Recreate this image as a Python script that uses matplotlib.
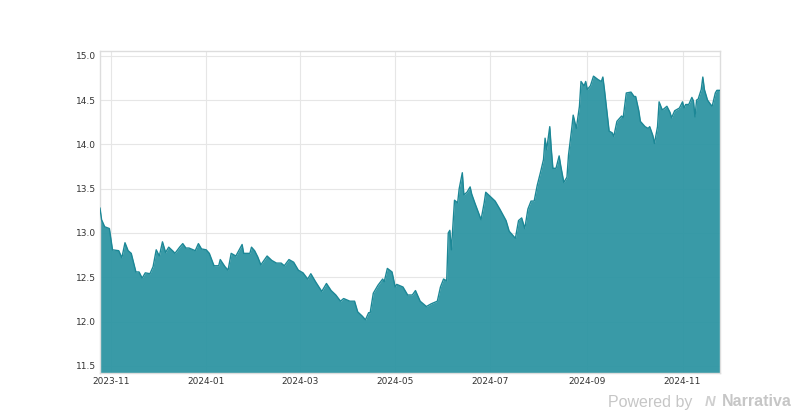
import matplotlib
matplotlib.use("Agg")
import matplotlib.pyplot as plt
import matplotlib.dates as mdates
import pandas as pd

# price series
dates = [
    "2023-10-25", "2023-10-26", "2023-10-28", "2023-10-31", "2023-11-02", "2023-11-06",
    "2023-11-08", "2023-11-10", "2023-11-12", "2023-11-14", "2023-11-17", "2023-11-19",
    "2023-11-21", "2023-11-23", "2023-11-26", "2023-11-28", "2023-11-30", "2023-12-02",
    "2023-12-04", "2023-12-06", "2023-12-08", "2023-12-11", "2023-12-12", "2023-12-15",
    "2023-12-17", "2023-12-19", "2023-12-21", "2023-12-25", "2023-12-27", "2023-12-29",
    "2024-01-01", "2024-01-03", "2024-01-06", "2024-01-09", "2024-01-10", "2024-01-13",
    "2024-01-15", "2024-01-17", "2024-01-20", "2024-01-24", "2024-01-25", "2024-01-29",
    "2024-01-30", "2024-02-01", "2024-02-03", "2024-02-05", "2024-02-09", "2024-02-12",
    "2024-02-15", "2024-02-18", "2024-02-20", "2024-02-23", "2024-02-26", "2024-02-29",
    "2024-03-03", "2024-03-06", "2024-03-08", "2024-03-11", "2024-03-15", "2024-03-18",
    "2024-03-21", "2024-03-24", "2024-03-27", "2024-03-29", "2024-04-02", "2024-04-05",
    "2024-04-07", "2024-04-10", "2024-04-12", "2024-04-14", "2024-04-15", "2024-04-17",
    "2024-04-20", "2024-04-23", "2024-04-24", "2024-04-26", "2024-04-29", "2024-05-01",
    "2024-05-02", "2024-05-06", "2024-05-09", "2024-05-12", "2024-05-14", "2024-05-17",
    "2024-05-21", "2024-05-24", "2024-05-28", "2024-05-30", "2024-06-01", "2024-06-03",
    "2024-06-04", "2024-06-05", "2024-06-06", "2024-06-08", "2024-06-10", "2024-06-11",
    "2024-06-13", "2024-06-14", "2024-06-16", "2024-06-18", "2024-06-19", "2024-06-21",
    "2024-06-24", "2024-06-25", "2024-06-27", "2024-06-28", "2024-07-01", "2024-07-04",
    "2024-07-07", "2024-07-11", "2024-07-13", "2024-07-15", "2024-07-17", "2024-07-19",
    "2024-07-21", "2024-07-23", "2024-07-25", "2024-07-27", "2024-07-29", "2024-07-31",
    "2024-08-02", "2024-08-04", "2024-08-05", "2024-08-06", "2024-08-08", "2024-08-09",
    "2024-08-10", "2024-08-12", "2024-08-14", "2024-08-15", "2024-08-17", "2024-08-19",
    "2024-08-20", "2024-08-22", "2024-08-23", "2024-08-25", "2024-08-27", "2024-08-28",
    "2024-08-30", "2024-08-31", "2024-09-01", "2024-09-03", "2024-09-05", "2024-09-08",
    "2024-09-10", "2024-09-11", "2024-09-12", "2024-09-14", "2024-09-15", "2024-09-17",
    "2024-09-18", "2024-09-20", "2024-09-23", "2024-09-24", "2024-09-26", "2024-09-29",
    "2024-10-01", "2024-10-02", "2024-10-04", "2024-10-05", "2024-10-08", "2024-10-10",
    "2024-10-11", "2024-10-13", "2024-10-14", "2024-10-16", "2024-10-17", "2024-10-19",
    "2024-10-20", "2024-10-22", "2024-10-24", "2024-10-25", "2024-10-27", "2024-10-29",
    "2024-10-30", "2024-11-01", "2024-11-02", "2024-11-03", "2024-11-05", "2024-11-07",
    "2024-11-08", "2024-11-09", "2024-11-10", "2024-11-11", "2024-11-13", "2024-11-14",
    "2024-11-15", "2024-11-17", "2024-11-19", "2024-11-20", "2024-11-22", "2024-11-23",
    "2024-11-24", "2024-11-25",
]
prices = [
    13.28, 13.15, 13.07, 13.05, 12.81, 12.80,
    12.72, 12.89, 12.80, 12.77, 12.56, 12.56,
    12.49, 12.55, 12.54, 12.62, 12.81, 12.74,
    12.90, 12.78, 12.84, 12.79, 12.77, 12.84,
    12.88, 12.83, 12.83, 12.80, 12.88, 12.82,
    12.81, 12.77, 12.63, 12.63, 12.70, 12.62,
    12.58, 12.77, 12.74, 12.87, 12.77, 12.77,
    12.84, 12.80, 12.73, 12.64, 12.74, 12.69,
    12.66, 12.66, 12.63, 12.70, 12.67, 12.58,
    12.55, 12.48, 12.54, 12.45, 12.34, 12.43,
    12.35, 12.30, 12.23, 12.26, 12.23, 12.23,
    12.11, 12.06, 12.02, 12.10, 12.10, 12.32,
    12.41, 12.48, 12.45, 12.60, 12.56, 12.39,
    12.42, 12.39, 12.30, 12.30, 12.35, 12.23,
    12.17, 12.20, 12.23, 12.39, 12.48, 12.46,
    13.00, 13.03, 12.81, 13.37, 13.34, 13.50,
    13.68, 13.43, 13.46, 13.52, 13.44, 13.34,
    13.20, 13.15, 13.34, 13.46, 13.41, 13.36,
    13.27, 13.14, 13.02, 12.98, 12.94, 13.14,
    13.17, 13.05, 13.27, 13.36, 13.36, 13.54,
    13.68, 13.83, 14.07, 13.94, 14.20, 13.94,
    13.73, 13.73, 13.87, 13.76, 13.57, 13.63,
    13.88, 14.17, 14.33, 14.18, 14.43, 14.71,
    14.66, 14.71, 14.62, 14.66, 14.77, 14.73,
    14.71, 14.76, 14.62, 14.31, 14.15, 14.13,
    14.09, 14.26, 14.32, 14.30, 14.58, 14.59,
    14.54, 14.54, 14.38, 14.26, 14.20, 14.18,
    14.20, 14.10, 14.01, 14.20, 14.48, 14.39,
    14.40, 14.43, 14.36, 14.30, 14.38, 14.40,
    14.41, 14.48, 14.41, 14.45, 14.45, 14.53,
    14.49, 14.31, 14.50, 14.51, 14.62, 14.76,
    14.62, 14.50, 14.45, 14.43, 14.58, 14.61,
    14.61, 14.61,
]

x = pd.to_datetime(dates)
y_bottom = 11.42

fig, ax = plt.subplots(figsize=(8, 4.2), dpi=100)
fig.subplots_adjust(left=0.125, right=0.9, bottom=0.112, top=0.879)

ax.grid(True, color="#e6e6e6", linewidth=0.8, zorder=0)
ax.fill_between(x, prices, y_bottom, color="#2a93a1", alpha=0.93, linewidth=0, zorder=2)
ax.plot(x, prices, color="#1c8796", linewidth=1.0, zorder=3)

ax.set_xlim(x[0], x[-1])
ax.set_ylim(y_bottom, 15.056)
ax.set_yticks([11.5, 12.0, 12.5, 13.0, 13.5, 14.0, 14.5, 15.0])
ax.xaxis.set_major_locator(mdates.MonthLocator(bymonth=[1, 3, 5, 7, 9, 11]))
ax.xaxis.set_major_formatter(mdates.DateFormatter("%Y-%m"))
ax.tick_params(axis="both", length=0, labelsize=6.5, colors="#333333", pad=3)
for s in ax.spines.values():
    s.set_color("#dddddd")
    s.set_linewidth(1.0)

# watermark
wm = dict(color="#c6c6c6", fontsize=11.5, family="Liberation Sans", va="bottom")
fig.text(0.76, 0.025, "Powered by", ha="left", **wm)
fig.text(0.881, 0.025, "N", ha="left", fontweight="bold", style="italic",
         color="#cfcfcf", fontsize=10.5, family="Liberation Sans", va="bottom")
fig.text(0.9025, 0.025, "Narrativa", ha="left", fontweight="bold", **wm)

fig.savefig("out.png", dpi=100)
